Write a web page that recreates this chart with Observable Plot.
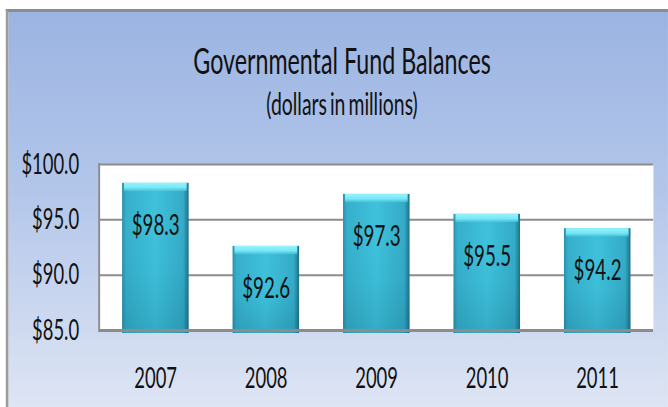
<!DOCTYPE html>
<html>
<head>
<meta charset="utf-8">
<script src="https://cdn.jsdelivr.net/npm/d3@7"></script>
<script src="https://cdn.jsdelivr.net/npm/@observablehq/plot@0.6"></script>
<style>
html,body{margin:0;padding:0;overflow:hidden;background:#fff;}
#stage{position:relative;width:1034px;height:407px;transform:scaleX(0.646);transform-origin:0 0;font-family:Lato,"Open Sans",sans-serif;color:#111;}
#frame{position:absolute;left:9px;top:9px;right:0;bottom:0;border-top:3px solid #8d8d8d;border-left:4.6px solid #9c9c9c;background:linear-gradient(to bottom,#9bb4e2 0%,#b3c6ea 45%,#dee5f4 100%);}
#title{position:absolute;top:42px;left:0;width:1059px;text-align:center;font-size:36px;line-height:1;white-space:nowrap;}
#subtitle{position:absolute;top:88px;left:0;width:1059px;text-align:center;font-size:30px;line-height:1;white-space:nowrap;word-spacing:-3px;}
#chart{position:absolute;top:140px;left:0;}
</style>
</head>
<body>
<div id="stage">
  <div id="frame"></div>
  <div id="title">Governmental Fund Balances</div>
  <div id="subtitle">(dollars in millions)</div>
  <div id="chart"></div>
</div>
<script>
const years = ["2007", "2008", "2009", "2010", "2011"];
const values = [98.3, 92.6, 97.3, 95.5, 94.2];
const yTicks = [85, 90, 95, 100];
const gridTicks = [90, 95, 100];
const baseline = 84.73;
const bevel = 0.75;

const data = years.map((year, i) => ({year, value: values[i]}));

const chart = Plot.plot({
  width: 1034,
  height: 267,
  marginTop: 24,
  marginBottom: 77,
  marginLeft: 153,
  marginRight: 23,
  style: {background: "transparent", fontFamily: "Lato, 'Open Sans', sans-serif", fontSize: "28.5px", color: "#111", overflow: "visible"},
  x: {domain: years, paddingInner: 0.4, paddingOuter: 0.2, label: null, tickSize: 0, tickPadding: 37},
  y: {domain: [85, 100], ticks: yTicks, tickFormat: d => "$" + d.toFixed(1), label: null, tickSize: 0, tickPadding: 31},
  marks: [
    Plot.frame({fill: "white", stroke: null}),
    Plot.ruleY(gridTicks, {stroke: "#8c8c8c", strokeWidth: 2}),
    Plot.frame({anchor: "left", stroke: "#8c8c8c", strokeWidth: 3}),
    Plot.barY(data, {x: "year", y1: baseline, y2: "value", fill: "url(#barGrad)"}),
    Plot.barY(data, {x: "year", y1: baseline, y2: "value", fill: "url(#barShade)"}),
    Plot.barY(data, {x: "year", y1: "value", y2: d => d.value - bevel, fill: "url(#bevelGrad)", insetLeft: 3, insetRight: 3}),
    Plot.ruleY([85], {stroke: "#8c8c8c", strokeWidth: 3}),
    Plot.text(data, {x: "year", y: "value", text: d => "$" + d.value.toFixed(1), dy: 42, fontSize: 29, fill: "#111"})
  ]
});

const ns = "http://www.w3.org/2000/svg";
const defs = document.createElementNS(ns, "defs");
function grad(id, x2, y2, stops) {
  const g = document.createElementNS(ns, "linearGradient");
  g.setAttribute("id", id);
  g.setAttribute("x1", "0"); g.setAttribute("y1", "0");
  g.setAttribute("x2", x2); g.setAttribute("y2", y2);
  for (const [o, c, a] of stops) {
    const s = document.createElementNS(ns, "stop");
    s.setAttribute("offset", o);
    s.setAttribute("stop-color", c);
    s.setAttribute("stop-opacity", a);
    g.appendChild(s);
  }
  defs.appendChild(g);
}
grad("barGrad", "1", "0", [
  [0, "#2a8fab", 1], [0.06, "#35afcb", 1], [0.5, "#3ec1dc", 1], [0.92, "#33abc7", 1], [1, "#1d6f88", 1]
]);
grad("barShade", "0", "1", [
  [0, "#ffffff", 0], [0.6, "#003850", 0.03], [1, "#003850", 0.16]
]);
grad("bevelGrad", "0", "1", [
  [0, "#95f4fd", 1], [0.6, "#78e6f5", 1], [1, "#4fcbe2", 0.6]
]);
const svg = chart.tagName.toLowerCase() === "svg" ? chart : chart.querySelector("svg");
svg.insertBefore(defs, svg.firstChild);
document.getElementById("chart").appendChild(chart);
</script>
</body>
</html>
